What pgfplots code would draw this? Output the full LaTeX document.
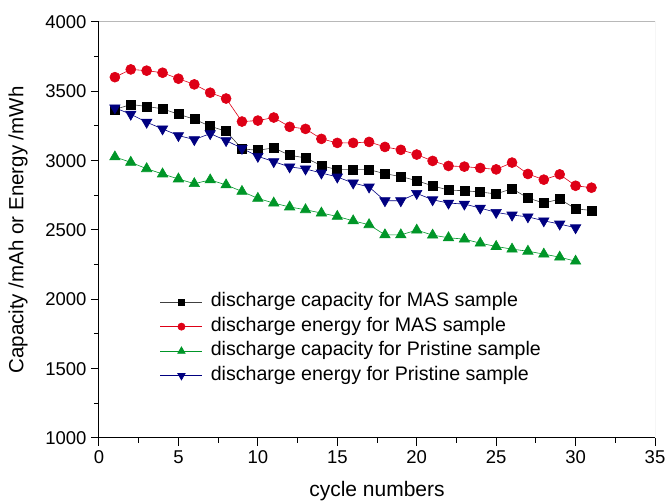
\documentclass[border=0pt]{standalone}
\usepackage{fontspec}
\setmainfont{Liberation Sans}
\usepackage{pgfplots}
\pgfplotsset{compat=1.18}
\definecolor{cred}{RGB}{222,0,22}
\definecolor{cgreen}{RGB}{0,150,40}
\definecolor{cnavy}{RGB}{0,0,128}
\begin{document}
\begin{tikzpicture}[x=1bp,y=1bp]
\path[use as bounding box] (-99,-66) rectangle (567,438);
\begin{axis}[
  at={(0,0)}, anchor=south west,
  scale only axis, width=556bp, height=416bp,
  xmin=0, xmax=35, ymin=1000, ymax=4000,
  xtick={0,5,...,35}, ytick={1000,1500,...,4000},
  minor x tick num=1, minor y tick num=1,
  axis x line*=bottom, axis y line*=left,
  axis line style={-, line width=1bp, black},
  tick align=outside,
  major tick length=8bp, minor tick length=5bp,
  every tick/.style={black, line width=1bp},
  /pgf/number format/assume math mode=true,
  /pgf/number format/1000 sep={},
  tick label style={font=\fontsize{18.5bp}{22bp}\selectfont},
  xticklabel style={yshift=-1bp},
  yticklabel style={xshift=-1bp},
  xlabel={cycle numbers}, ylabel={Capacity /mAh or Energy /mWh},
  xlabel style={font=\fontsize{21bp}{24bp}\selectfont, at={(axis description cs:0.5,-0.128)}, anchor=center},
  ylabel style={font=\fontsize{20.5bp}{24bp}\selectfont, at={(axis description cs:-0.1457,0.5)}, anchor=center},
  legend cell align=left,
  legend image code/.code={
    \draw[mark repeat=2,mark phase=2,#1, every mark/.append style={scale=0.72}] plot coordinates {(0bp,0bp) (21bp,0bp) (42bp,0bp)};
  },
  legend style={draw=none, fill=none, at={(axis cs:3.85,2068)}, anchor=north west,
    inner sep=0pt, outer sep=0pt, row sep=0pt,
    font=\fontsize{19.6bp}{22bp}\selectfont,
    nodes={inner sep=0pt, text height=17bp, text depth=7.5bp},
    /tikz/every odd column/.style={column sep=8bp}},
]
\draw[line width=1bp, black!28] (rel axis cs:0,1) -- (rel axis cs:1,1) -- (rel axis cs:1,0);
\addplot[line width=0.6bp, color=black!75, mark=square*, mark size=4.5bp, mark options={solid, fill=black, draw=black}]
coordinates {(1,3369) (2,3405) (3,3391) (4,3374) (5,3335) (6,3299) (7,3248) (8,3212) (9,3085) (10,3075) (11,3092) (12,3039) (13,3020) (14,2964) (15,2935) (16,2935) (17,2935) (18,2906) (19,2885) (20,2856) (21,2818) (22,2788) (23,2783) (24,2774) (25,2760) (26,2798) (27,2731) (28,2694) (29,2723) (30,2653) (31,2641)};
\addlegendentry{discharge capacity for MAS sample}
\addplot[line width=0.6bp, color=cred, mark=*, mark size=5bp, mark options={solid, fill=cred, draw=cred}]
coordinates {(1,3602) (2,3658) (3,3649) (4,3634) (5,3591) (6,3550) (7,3490) (8,3448) (9,3282) (10,3289) (11,3311) (12,3244) (13,3229) (14,3157) (15,3128) (16,3128) (17,3135) (18,3099) (19,3078) (20,3044) (21,2998) (22,2962) (23,2957) (24,2947) (25,2937) (26,2986) (27,2904) (28,2863) (29,2901) (30,2819) (31,2805)};
\addlegendentry{discharge energy for MAS sample}
\addplot[line width=0.6bp, color=cgreen, mark=triangle*, mark size=6bp, mark options={solid, fill=cgreen, draw=cgreen}]
coordinates {(1,3027) (2,2988) (3,2942) (4,2904) (5,2868) (6,2834) (7,2861) (8,2825) (9,2778) (10,2728) (11,2694) (12,2666) (13,2646) (14,2622) (15,2598) (16,2566) (17,2538) (18,2465) (19,2465) (20,2499) (21,2463) (22,2444) (23,2434) (24,2405) (25,2381) (26,2362) (27,2347) (28,2326) (29,2304) (30,2275)};
\addlegendentry{discharge capacity for Pristine sample}
\addplot[line width=0.6bp, color=cnavy, mark=triangle*, mark size=6bp, mark options={solid, fill=cnavy, draw=cnavy, rotate=180}]
coordinates {(1,3381) (2,3335) (3,3277) (4,3229) (5,3181) (6,3152) (7,3195) (8,3145) (9,3089) (10,3031) (11,2993) (12,2955) (13,2940) (14,2911) (15,2882) (16,2839) (17,2810) (18,2711) (19,2711) (20,2764) (21,2718) (22,2694) (23,2687) (24,2658) (25,2627) (26,2608) (27,2595) (28,2566) (29,2543) (30,2516)};
\addlegendentry{discharge energy for Pristine sample}
\end{axis}
\end{tikzpicture}
\end{document}
